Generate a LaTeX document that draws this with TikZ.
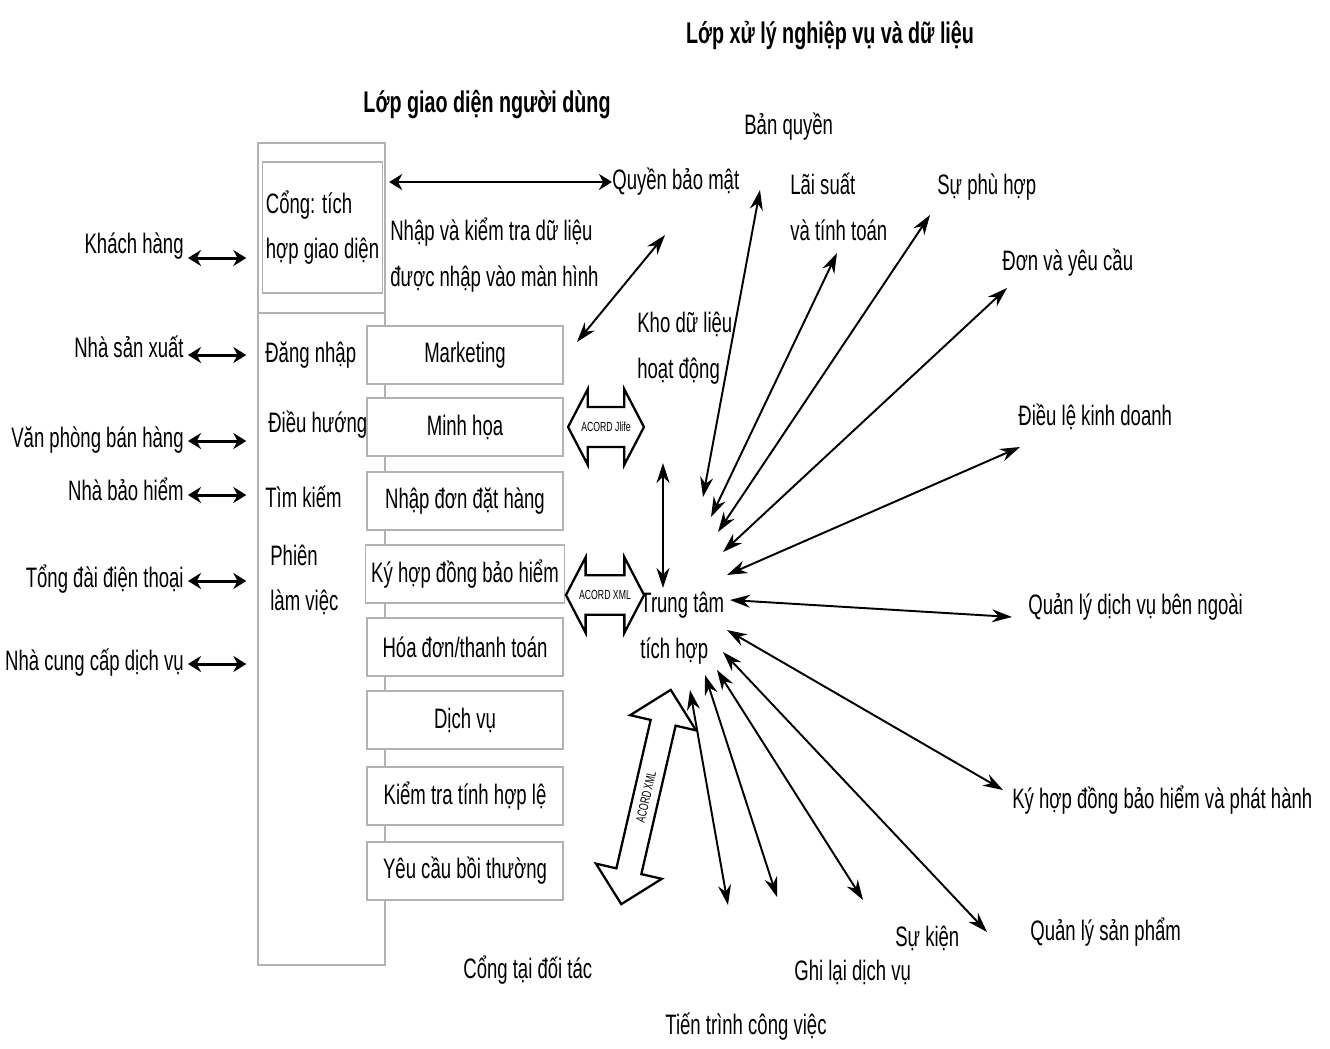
\documentclass[tikz,border=0pt]{standalone}
\usepackage{fontspec}
\setmainfont{Liberation Sans}[FakeStretch=0.66]
\usetikzlibrary{arrows.meta, shapes.arrows}
\tikzset{>={Stealth[length=0.4cm,width=0.26cm]},
txt/.style={font=\fontsize{16}{26}\selectfont, inner sep=0pt, align=left},
ttl/.style={font=\bfseries\fontsize{17}{20}\selectfont, inner sep=0pt},
frame/.style={draw=gray!60, line width=0.8pt},
func/.style={frame, fill=white, minimum width=3.92cm, minimum height=1.16cm, font=\fontsize{16}{20}\selectfont},
lr/.style={>={Stealth[length=0.26cm,width=0.32cm]}, <->, line width=1.7pt},
fan/.style={<->, line width=1.1pt},
acord/.style={double arrow, draw, fill=white, line width=1.3pt, double arrow tip angle=125,
  double arrow head extend=0.36cm, minimum height=1.5cm, inner xsep=1pt, inner ysep=0.28cm,
  font=\fontsize{7.5}{8}\selectfont},
}

\begin{document}
\begin{tikzpicture}[x=0.02cm, y=-0.02cm]
    \useasboundingbox (0,0) rectangle (1330,1049);
    % titles
    \node[ttl] (lop1) at (830,35) {Lớp xử lý nghiệp vụ và dữ liệu};
    \node[ttl] (lop2) at (487,105) {Lớp giao diện người dùng};

    % user interface layer
    \node[frame, minimum width=2.54cm, minimum height=16.44cm] (ui) at (321.5,554) {};
    \draw[frame] (258,313) -- (385,313);
    \node[frame, minimum width=2.22cm, minimum height=2.62cm, align=left, inner sep=2pt,
      font=\fontsize{16}{26}\selectfont] (gate) at (322.5,227.5) {Cổng: tích\\hợp giao diện};
    \node[txt, anchor=west] (dn) at (265,355) {Đăng nhập};
    \node[txt, anchor=west] (dh) at (268,425) {Điều hướng};
    \node[txt, anchor=west] (tk) at (265,497) {Tìm kiếm};
    \node[txt, anchor=west] (pl) at (270,580) {Phiên\\làm việc};

    \node[func] (mkt) at (465,355) {Marketing};
    \node[func] (mh) at (465,427) {Minh họa};
    \node[func] (ndh) at (465,501) {Nhập đơn đặt hàng};
    \node[func] (kyb) at (465,574) {Ký hợp đồng bảo hiểm};
    \node[func] (hd) at (465,647) {Hóa đơn/thanh toán};
    \node[func] (dv) at (465,720) {Dịch vụ};
    \node[func] (kt) at (465,796) {Kiểm tra tính hợp lệ};
    \node[func] (yc) at (465,871) {Yêu cầu bồi thường};

    % users on the left
    \foreach \n/\t/\y/\d in {kh/Khách hàng/253/5, nsx/Nhà sản xuất/357/-2, vp/Văn phòng bán hàng/447/-6,
        nbh/Nhà bảo hiểm/500/-5, td/Tổng đài điện thoại/587/-6, ncc/Nhà cung cấp dịch vụ/670/-6} {
      \node[txt, anchor=base east] (\n) at (184,\y) {\t};
      \coordinate (\n-a) at ([shift={(4,\d)}]\n.base east);
      \draw[lr, shorten >=0.22cm] (\n-a) -- (\n-a -| ui.west);
    }

    % middle texts
    \node[txt, anchor=west] (nhap) at (390,255) {Nhập và kiểm tra dữ liệu\\được nhập vào màn hình};
    \node[txt, anchor=west] (qbm) at (612,182) {Quyền bảo mật};
    \node[txt, anchor=west] (kho) at (637,348) {Kho dữ liệu\\hoạt động};
    \node[txt, anchor=west] (hub) at (640,628) {Trung tâm\\tích hợp};
    \node[txt, anchor=west] (ctdt) at (463,970) {Cổng tại đối tác};

    \draw[lr, line width=1.4pt, shorten <=2pt] (ui.east |- qbm.west) -- (qbm.west);
    \coordinate (ka) at (665,235);
    \coordinate (kb) at (577,342);
    \draw[fan] (kb) -- (ka);
    \coordinate (va) at (663,463);
    \coordinate (vb) at (663,588);
    \draw[fan] (va) -- (vb);

    % ACORD links
    \node[acord] (aj) at (606,427) {ACORD Jlife};
    \node[acord] (ax) at (605,595) {ACORD XML};
    \node[acord, rotate=77, minimum height=4.4cm, inner ysep=0.14cm, double arrow tip angle=90,
      double arrow head extend=0.42cm] (axr) at (646,797) {ACORD XML};

    % business layer
    \node[txt, anchor=west] (bq) at (744,127) {Bản quyền};
    \node[txt, anchor=west] (ls) at (790,207) {Lãi suất\\và tính toán};
    \node[txt, anchor=west] (sph) at (937,187) {Sự phù hợp};
    \node[txt, anchor=west] (dvy) at (1002,263) {Đơn và yêu cầu};
    \node[txt, anchor=west] (dlkd) at (1018,417) {Điều lệ kinh doanh};
    \node[txt, anchor=west] (qldv) at (1028,607) {Quản lý dịch vụ bên ngoài};
    \node[txt, anchor=west] (kyhd) at (1012,800) {Ký hợp đồng bảo hiểm và phát hành};
    \node[txt, anchor=west] (qlsp) at (1030,932) {Quản lý sản phẩm};
    \node[txt, anchor=west] (sk) at (895,938) {Sự kiện};
    \node[txt, anchor=west] (gl) at (794,972) {Ghi lại dịch vụ};
    \node[txt, anchor=west] (tt) at (665,1027) {Tiến trình công việc};

    \foreach \i/\hx/\hy/\tx/\ty in {1/703/497/760/190, 2/711/517/837/253, 3/718/532/930/215,
        4/723/552/1007/288, 5/727/575/1020/447, 6/730/600/1012/617, 7/727/630/1003/790,
        8/723/652/987/932, 9/717/670/863/900, 10/705/675/777/897, 11/690/690/728/905} {
      \coordinate (h\i) at (\hx,\hy);
      \coordinate (t\i) at (\tx,\ty);
      \draw[fan] (h\i) -- (t\i);
    }
\end{tikzpicture}
\end{document}
